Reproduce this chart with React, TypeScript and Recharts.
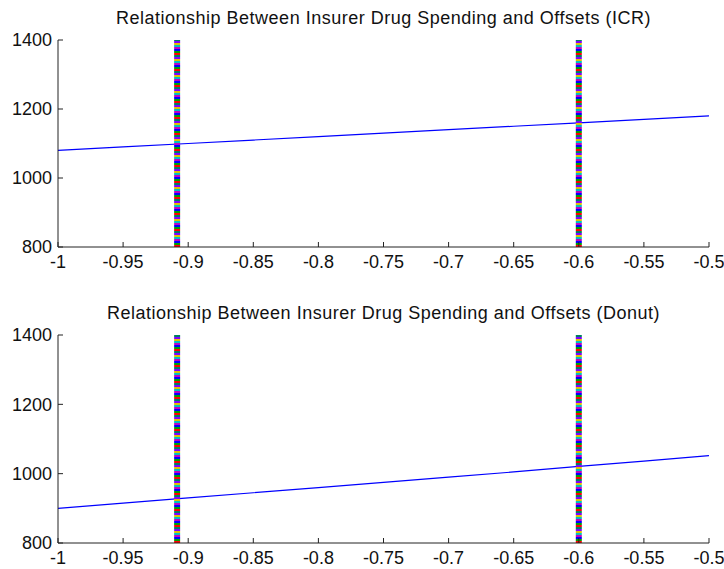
import { LineChart, Line, XAxis, YAxis, ReferenceLine } from "recharts"

// x positions of the sampled curve
const xValues = [-1, -0.95, -0.9, -0.85, -0.8, -0.75, -0.7, -0.65, -0.6, -0.55, -0.5]
const icrSpending = [1080, 1090, 1100, 1110, 1120, 1130, 1140, 1150, 1160, 1170, 1180]
const donutSpending = [900, 915, 930, 945, 960, 975, 990, 1005, 1021, 1036, 1052]

const xTicks = [-1, -0.95, -0.9, -0.85, -0.8, -0.75, -0.7, -0.65, -0.6, -0.55, -0.5]
const yTicks = [800, 1000, 1200, 1400]
const offsetMarkers = [-0.9085, -0.6]
const markerColors = ["#ff0000", "#00a000", "#0000ff", "#c000c0", "#00c0c0", "#e0c000", "#8000ff", "#008060"]

const FONT = "'Liberation Sans', Arial, sans-serif"
const AXIS = "#222"

type PanelProps = {
  title: string
  values: number[]
  top: number
  height: number
  margin: { top: number; right: number; bottom: number; left: number }
}

function Panel({ title, values, top, height, margin }: PanelProps) {
  const data = xValues.map((x, i) => ({ x, y: values[i] }))
  const tickStyle = { fontSize: 18, fill: "#111", fontFamily: FONT }
  return (
    <div style={{ position: "absolute", left: 0, top, width: 724, height }}>
      <div
        style={{
          position: "absolute",
          left: 58,
          width: 651,
          top: margin.top - 32,
          textAlign: "center",
          fontSize: 18,
          letterSpacing: 0.5,
          fontFamily: FONT,
          color: "#111",
          whiteSpace: "nowrap",
        }}
      >
        {title}
      </div>
      <LineChart width={724} height={height} data={data} margin={margin}>
        <XAxis
          dataKey="x"
          type="number"
          domain={[-1, -0.5]}
          ticks={xTicks}
          interval={0}
          allowDataOverflow
          tickFormatter={(v: number) => String(v)}
          height={20}
          tickSize={-5}
          tickMargin={13}
          stroke={AXIS}
          tick={tickStyle}
        />
        <XAxis
          xAxisId="top"
          orientation="top"
          dataKey="x"
          type="number"
          domain={[-1, -0.5]}
          ticks={xTicks}
          interval={0}
          height={0}
          tickSize={-5}
          tick={false}
          stroke={AXIS}
        />
        <YAxis
          domain={[800, 1400]}
          ticks={yTicks}
          interval={0}
          width={50}
          tickSize={-5}
          tickMargin={11}
          stroke={AXIS}
          tick={tickStyle}
        />
        <YAxis
          yAxisId="right"
          orientation="right"
          domain={[800, 1400]}
          ticks={yTicks}
          interval={0}
          width={0}
          tickSize={-5}
          tick={false}
          stroke={AXIS}
        />
        <Line type="linear" dataKey="y" stroke="#0000ff" strokeWidth={1.2} dot={false} isAnimationActive={false} />
        {offsetMarkers.map((m) =>
          markerColors.map((c, i) => (
            <ReferenceLine
              key={`${m}-${c}`}
              x={m}
              stroke={c}
              strokeWidth={6}
              strokeDasharray={`0 ${i * 2} 2 ${markerColors.length * 2 - i * 2 - 2}`}
            />
          ))
        )}
      </LineChart>
    </div>
  )
}

export default function App() {
  return (
    <div style={{ position: "absolute", left: 0, top: 0, width: 724, height: 569, background: "#fff" }}>
      <Panel
        title="Relationship Between Insurer Drug Spending and Offsets (ICR)"
        values={icrSpending}
        top={0}
        height={285}
        margin={{ top: 40, right: 15, bottom: 18, left: 8 }}
      />
      <Panel
        title="Relationship Between Insurer Drug Spending and Offsets (Donut)"
        values={donutSpending}
        top={285}
        height={284}
        margin={{ top: 50, right: 15, bottom: 6, left: 8 }}
      />
    </div>
  )
}
